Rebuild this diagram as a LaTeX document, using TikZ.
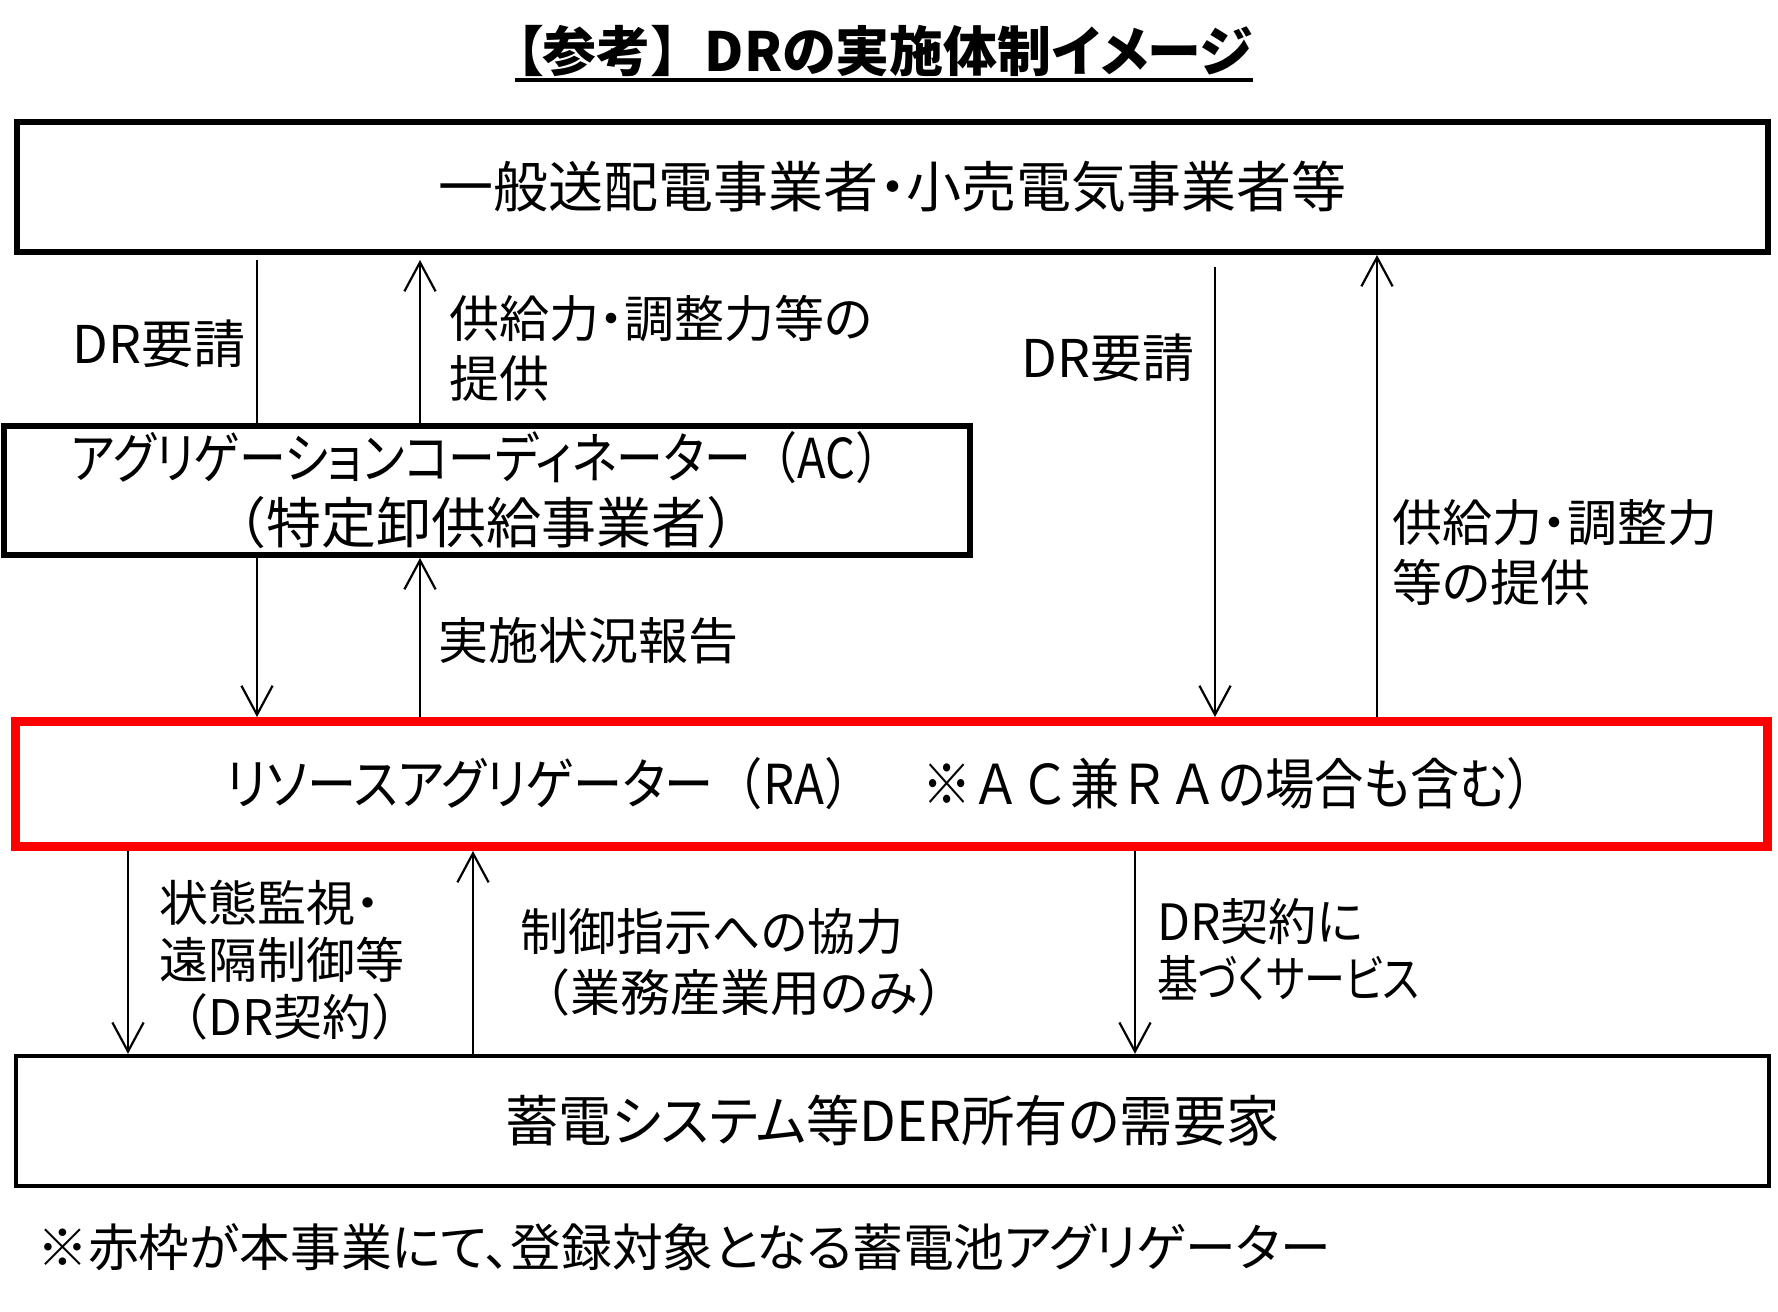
\documentclass[tikz,border=0pt]{standalone}
\usepackage{fontspec}
\setmainfont{Noto Sans CJK JP}[RawFeature=+palt]
\newfontfamily\fwfont{Noto Sans CJK JP}
\newcommand\fw[1]{{\fwfont #1}}
\newcommand\lf[2]{\fontsize{#1pt}{#2pt}\selectfont}
\newcommand\sx[2]{\scalebox{#1}[1]{#2}}
\usetikzlibrary{arrows.meta}
\definecolor{rared}{RGB}{255,0,0}
\begin{document}
\begin{tikzpicture}[x=0.5pt,y=-0.5pt,
  box/.style={draw, line width=3pt, inner sep=0pt, align=center, font=\lf{27.5}{30}},
  lbl/.style={inner sep=0pt, align=left, font=\lf{25}{30}},
  ln/.style={line width=1.1pt},
  arr/.style={line width=1.1pt, -{Straight Barb[length=14.5pt,width=15.6pt,line width=1.1pt]}}]
\useasboundingbox (0,0) rectangle (1778,1312);
% title
\node[inner sep=0pt, font=\lf{27}{30}\bfseries] (title) at (884,51) {【参考\fw{】}DRの実施体制イメージ};
\draw[line width=2pt] ([yshift=-1.5pt]title.south west) -- ([yshift=-1.5pt]title.south east);
% boxes
\node[box, minimum width=875.5pt, minimum height=65pt] (top) at (892.5,187) {一般送配電事業者・小売電気事業者等};
\node[box, minimum width=483pt, minimum height=64.5pt, font=\lf{27.5}{32.5}] (ac) at (487,490.5)
  {\sx{0.853}{アグリゲーションコーディネーター\fw{（}AC\fw{）}}\\\fw{（}特定卸供給事業者\fw{）}};
\node[box, draw=rared, line width=4.5pt, minimum width=876pt, minimum height=62.5pt] (ra) at (891,784)
  {\sx{0.895}{リソースアグリゲーター\fw{（}RA\fw{）　※ＡＣ}兼\fw{ＲＡ}の場合も含む\fw{）}}};
\node[box, line width=2.2pt, minimum width=876.5pt, minimum height=65pt] (bot) at (892.5,1121) {\sx{0.97}{蓄電システム等DER所有の需要家}};
% footnote
\node[lbl, anchor=west, font=\lf{25.4}{30}] (note) at (37,1247) {※赤枠が本事業にて、登録対象となる蓄電池アグリゲーター};
% x positions of connectors
\coordinate (xa) at (257,0);
\coordinate (xb) at (420,0);
\coordinate (xc) at (1215,0);
\coordinate (xd) at (1377,0);
\coordinate (xe) at (128,0);
\coordinate (xf) at (473,0);
\coordinate (xg) at (1135,0);
% connectors
\draw[ln, shorten <=2.5pt] (top.south -| xa) -- (ac.north -| xa);
\draw[arr] (ac.south -| xa) -- (ra.north -| xa);
\draw[arr, shorten >=2.5pt] (ac.north -| xb) -- (top.south -| xb);
\draw[arr] (ra.north -| xb) -- (ac.south -| xb);
\draw[arr, shorten <=6pt] (top.south -| xc) -- (ra.north -| xc);
\draw[arr] (ra.north -| xd) -- (top.south -| xd);
\draw[arr] (ra.south -| xe) -- (bot.north -| xe);
\draw[arr] (bot.north -| xf) -- (ra.south -| xf);
\draw[arr] (ra.south -| xg) -- (bot.north -| xg);
% labels
\node[lbl, anchor=east, font=\lf{26}{30}] (l1) at (246,344) {DR要請};
\node[lbl, anchor=west] (l2) at (449,348) {供給力・調整力等の\\提供};
\node[lbl, anchor=east, font=\lf{26}{30}] (l3) at (1195,358) {DR要請};
\node[lbl, anchor=west] (l4) at (1392,552) {供給力・調整力\\等の提供};
\node[lbl, anchor=west] (l5) at (438,641) {実施状況報告};
\node[lbl, anchor=west, font=\lf{24.5}{28.5}] (l6) at (159,960) {状態監視・\\遠隔制御等\\\fw{（}DR契約\fw{）}};
\node[lbl, anchor=west, font=\lf{25}{30.5}] (l7) at (520,962) {\sx{0.96}{制御指示への協力}\\\fw{（}業務産業用のみ\fw{）}};
\node[lbl, anchor=west, font=\lf{25}{28.5}] (l8) at (1157,950) {\sx{0.96}{DR契約に}\\\sx{0.82}{基づくサービス}};
\end{tikzpicture}
\end{document}
